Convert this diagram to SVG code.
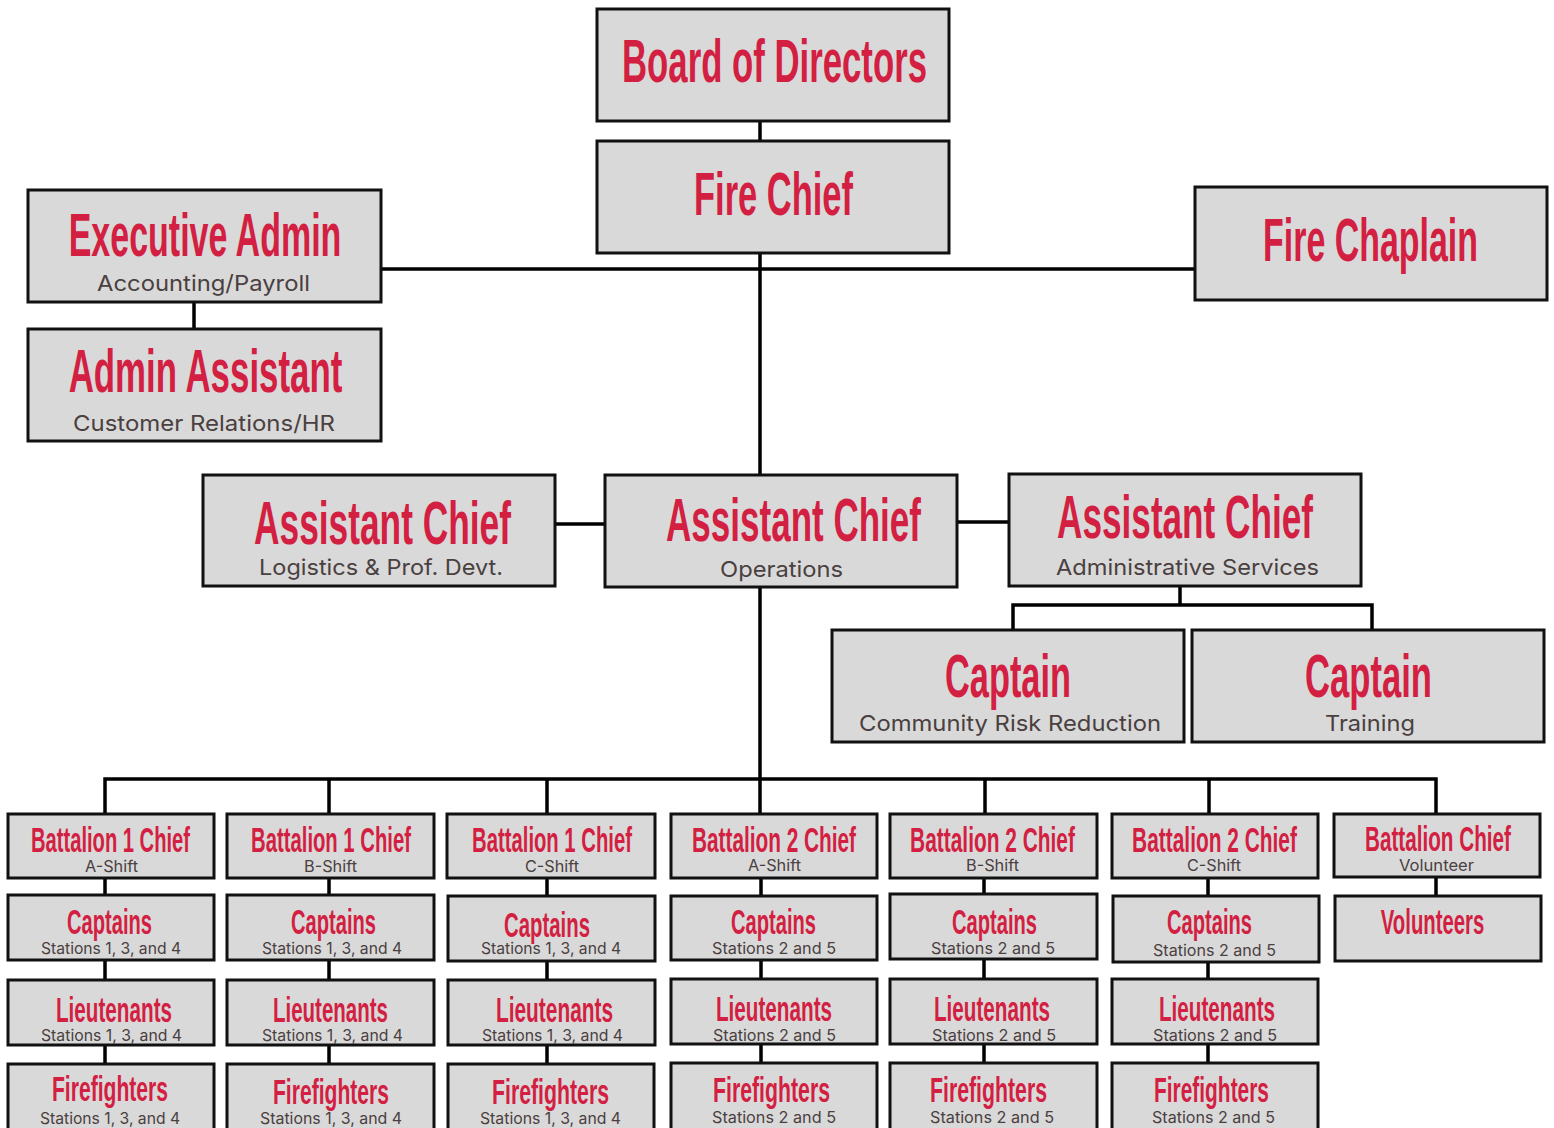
<svg xmlns="http://www.w3.org/2000/svg" width="1554" height="1128" viewBox="0 0 1554 1128">
<style>
rect.box{fill:#D9D9D9;stroke:#111;stroke-width:3}
.t{font-family:"Liberation Sans",Arial,sans-serif;font-weight:bold;fill:#D21F42;text-anchor:middle}
.big{font-size:62px}
.sm{font-size:35px}
.s{font-family:Inter,"Liberation Sans",sans-serif;fill:#4A4040;text-anchor:middle}
.sb{font-size:22px}
.ss{font-size:16px}
#connectors path{fill:none;stroke:#000;stroke-width:3.5}
</style>
<rect width="1554" height="1128" fill="#fff"/>
<g id="connectors">
<path d="M760 121V141"/>
<path d="M760 253V475"/>
<path d="M381 269H1195"/>
<path d="M194 302V329"/>
<path d="M555 524H605"/>
<path d="M957 522H1009"/>
<path d="M1180 586V605M1013 630V605H1372V630"/>
<path d="M760 587V779"/>
<path d="M105 814V779H1436V814M329 779V814M547 779V814M760 779V814M985 779V814M1209 779V814"/>
<path d="M105 878V1064M329 878V1064M547 878V1064M761 878V1064M984 878V1064M1208 878V1064M1436 878V896"/>
</g>
<g id="board"><rect class="box" x="597" y="9" width="352" height="112"/><text class="t big" transform="translate(774.5 82) scale(0.5604 1)">Board of Directors</text></g>
<g id="fire-chief"><rect class="box" x="597" y="141" width="352" height="112"/><text class="t big" transform="translate(773.5 215) scale(0.5561 1)">Fire Chief</text></g>
<g id="exec-admin"><rect class="box" x="28" y="190" width="353" height="112"/><text class="t big" transform="translate(205 256) scale(0.5484 1)">Executive Admin</text><text class="s sb" x="203.5" y="291" textLength="213" lengthAdjust="spacingAndGlyphs">Accounting/Payroll</text></g>
<g id="admin-assistant"><rect class="box" x="28" y="329" width="353" height="112"/><text class="t big" transform="translate(205.5 392) scale(0.5622 1)">Admin Assistant</text><text class="s sb" x="204" y="431" textLength="262" lengthAdjust="spacingAndGlyphs">Customer Relations/HR</text></g>
<g id="fire-chaplain"><rect class="box" x="1195" y="187" width="352" height="113"/><text class="t big" transform="translate(1370.5 261) scale(0.5474 1)">Fire Chaplain</text></g>
<g id="ac-logistics"><rect class="box" x="203" y="475" width="352" height="111"/><text class="t big" transform="translate(382.5 544) scale(0.5695 1)">Assistant Chief</text><text class="s sb" x="381" y="575" textLength="244" lengthAdjust="spacingAndGlyphs">Logistics &amp; Prof. Devt.</text></g>
<g id="ac-operations"><rect class="box" x="605" y="475" width="352" height="112"/><text class="t big" transform="translate(793.5 541) scale(0.565 1)">Assistant Chief</text><text class="s sb" x="781.5" y="577" textLength="123" lengthAdjust="spacingAndGlyphs">Operations</text></g>
<g id="ac-admin"><rect class="box" x="1009" y="474" width="352" height="112"/><text class="t big" transform="translate(1185 538) scale(0.567 1)">Assistant Chief</text><text class="s sb" x="1187.5" y="575" textLength="263" lengthAdjust="spacingAndGlyphs">Administrative Services</text></g>
<g id="captain-crr"><rect class="box" x="832" y="630" width="352" height="112"/><text class="t big" transform="translate(1008 697) scale(0.554 1)">Captain</text><text class="s sb" x="1010" y="731" textLength="302" lengthAdjust="spacingAndGlyphs">Community Risk Reduction</text></g>
<g id="captain-training"><rect class="box" x="1192" y="630" width="352" height="112"/><text class="t big" transform="translate(1368.5 697) scale(0.5585 1)">Captain</text><text class="s sb" x="1370" y="731" textLength="90" lengthAdjust="spacingAndGlyphs">Training</text></g>

<g id="b1a"><rect class="box" x="8" y="814" width="206" height="64"/><text class="t sm" transform="translate(110.5 852) scale(0.576 1)">Battalion 1 Chief</text><text class="s ss" x="111.5" y="872" textLength="53" lengthAdjust="spacingAndGlyphs">A-Shift</text></g>
<g id="cap1a"><rect class="box" x="8" y="895" width="206" height="65"/><text class="t sm" transform="translate(109.5 934) scale(0.575 1)">Captains</text><text class="s ss" x="111" y="954" textLength="140" lengthAdjust="spacingAndGlyphs">Stations 1, 3, and 4</text></g>
<g id="lt1a"><rect class="box" x="8" y="980" width="206" height="65"/><text class="t sm" transform="translate(114 1022) scale(0.591 1)">Lieutenants</text><text class="s ss" x="111.5" y="1041" textLength="141" lengthAdjust="spacingAndGlyphs">Stations 1, 3, and 4</text></g>
<g id="ff1a"><rect class="box" x="8" y="1064" width="206" height="80"/><text class="t sm" transform="translate(110 1101) scale(0.603 1)">Firefighters</text><text class="s ss" x="110" y="1124" textLength="140" lengthAdjust="spacingAndGlyphs">Stations 1, 3, and 4</text></g>

<g id="b1b"><rect class="box" x="227" y="814" width="207" height="64"/><text class="t sm" transform="translate(331 852) scale(0.579 1)">Battalion 1 Chief</text><text class="s ss" x="330.5" y="872" textLength="53" lengthAdjust="spacingAndGlyphs">B-Shift</text></g>
<g id="cap1b"><rect class="box" x="227" y="895" width="207" height="65"/><text class="t sm" transform="translate(333.5 934) scale(0.575 1)">Captains</text><text class="s ss" x="332" y="954" textLength="140" lengthAdjust="spacingAndGlyphs">Stations 1, 3, and 4</text></g>
<g id="lt1b"><rect class="box" x="227" y="980" width="207" height="65"/><text class="t sm" transform="translate(330.5 1022) scale(0.586 1)">Lieutenants</text><text class="s ss" x="332.5" y="1041" textLength="141" lengthAdjust="spacingAndGlyphs">Stations 1, 3, and 4</text></g>
<g id="ff1b"><rect class="box" x="227" y="1064" width="207" height="80"/><text class="t sm" transform="translate(331 1104) scale(0.603 1)">Firefighters</text><text class="s ss" x="331" y="1124" textLength="142" lengthAdjust="spacingAndGlyphs">Stations 1, 3, and 4</text></g>

<g id="b1c"><rect class="box" x="447" y="814" width="208" height="64"/><text class="t sm" transform="translate(552 852) scale(0.579 1)">Battalion 1 Chief</text><text class="s ss" x="552" y="872" textLength="54" lengthAdjust="spacingAndGlyphs">C-Shift</text></g>
<g id="cap1c"><rect class="box" x="448" y="896" width="207" height="65"/><text class="t sm" transform="translate(547 937) scale(0.582 1)">Captains</text><text class="s ss" x="551" y="954" textLength="140" lengthAdjust="spacingAndGlyphs">Stations 1, 3, and 4</text></g>
<g id="lt1c"><rect class="box" x="448" y="980" width="207" height="65"/><text class="t sm" transform="translate(554.5 1022) scale(0.596 1)">Lieutenants</text><text class="s ss" x="552.5" y="1041" textLength="141" lengthAdjust="spacingAndGlyphs">Stations 1, 3, and 4</text></g>
<g id="ff1c"><rect class="box" x="448" y="1064" width="206" height="80"/><text class="t sm" transform="translate(550.5 1104) scale(0.608 1)">Firefighters</text><text class="s ss" x="550.5" y="1124" textLength="141" lengthAdjust="spacingAndGlyphs">Stations 1, 3, and 4</text></g>

<g id="b2a"><rect class="box" x="671" y="814" width="206" height="64"/><text class="t sm" transform="translate(774 852) scale(0.594 1)">Battalion 2 Chief</text><text class="s ss" x="774.5" y="871" textLength="53" lengthAdjust="spacingAndGlyphs">A-Shift</text></g>
<g id="cap2a"><rect class="box" x="671" y="896" width="206" height="64"/><text class="t sm" transform="translate(773.5 934) scale(0.575 1)">Captains</text><text class="s ss" x="774" y="954" textLength="124" lengthAdjust="spacingAndGlyphs">Stations 2 and 5</text></g>
<g id="lt2a"><rect class="box" x="671" y="979" width="206" height="65"/><text class="t sm" transform="translate(774 1021) scale(0.591 1)">Lieutenants</text><text class="s ss" x="774.5" y="1041" textLength="123" lengthAdjust="spacingAndGlyphs">Stations 2 and 5</text></g>
<g id="ff2a"><rect class="box" x="671" y="1063" width="206" height="80"/><text class="t sm" transform="translate(771.5 1102) scale(0.608 1)">Firefighters</text><text class="s ss" x="774" y="1123" textLength="124" lengthAdjust="spacingAndGlyphs">Stations 2 and 5</text></g>

<g id="b2b"><rect class="box" x="890" y="814" width="207" height="64"/><text class="t sm" transform="translate(992.5 852) scale(0.597 1)">Battalion 2 Chief</text><text class="s ss" x="992.5" y="871" textLength="53" lengthAdjust="spacingAndGlyphs">B-Shift</text></g>
<g id="cap2b"><rect class="box" x="890" y="894" width="207" height="65"/><text class="t sm" transform="translate(994.5 934) scale(0.575 1)">Captains</text><text class="s ss" x="993" y="954" textLength="124" lengthAdjust="spacingAndGlyphs">Stations 2 and 5</text></g>
<g id="lt2b"><rect class="box" x="890" y="979" width="207" height="65"/><text class="t sm" transform="translate(992 1021) scale(0.591 1)">Lieutenants</text><text class="s ss" x="994" y="1041" textLength="124" lengthAdjust="spacingAndGlyphs">Stations 2 and 5</text></g>
<g id="ff2b"><rect class="box" x="890" y="1063" width="207" height="80"/><text class="t sm" transform="translate(988.5 1102) scale(0.608 1)">Firefighters</text><text class="s ss" x="992" y="1123" textLength="124" lengthAdjust="spacingAndGlyphs">Stations 2 and 5</text></g>

<g id="b2c"><rect class="box" x="1112" y="814" width="206" height="64"/><text class="t sm" transform="translate(1214.5 852) scale(0.597 1)">Battalion 2 Chief</text><text class="s ss" x="1214" y="871" textLength="54" lengthAdjust="spacingAndGlyphs">C-Shift</text></g>
<g id="cap2c"><rect class="box" x="1113" y="896" width="206" height="66"/><text class="t sm" transform="translate(1209.5 934) scale(0.575 1)">Captains</text><text class="s ss" x="1214.5" y="956" textLength="123" lengthAdjust="spacingAndGlyphs">Stations 2 and 5</text></g>
<g id="lt2c"><rect class="box" x="1112" y="979" width="206" height="65"/><text class="t sm" transform="translate(1217 1021) scale(0.591 1)">Lieutenants</text><text class="s ss" x="1215" y="1041" textLength="124" lengthAdjust="spacingAndGlyphs">Stations 2 and 5</text></g>
<g id="ff2c"><rect class="box" x="1112" y="1063" width="206" height="80"/><text class="t sm" transform="translate(1211.5 1102) scale(0.597 1)">Firefighters</text><text class="s ss" x="1213.5" y="1123" textLength="123" lengthAdjust="spacingAndGlyphs">Stations 2 and 5</text></g>

<g id="bvol"><rect class="box" x="1334" y="814" width="206" height="63"/><text class="t sm" transform="translate(1438 851) scale(0.591 1)">Battalion Chief</text><text class="s ss" x="1436.5" y="871" textLength="75" lengthAdjust="spacingAndGlyphs">Volunteer</text></g>
<g id="volunteers"><rect class="box" x="1335" y="896" width="206" height="65"/><text class="t sm" transform="translate(1432.5 934) scale(0.58 1)">Volunteers</text></g>
</svg>
